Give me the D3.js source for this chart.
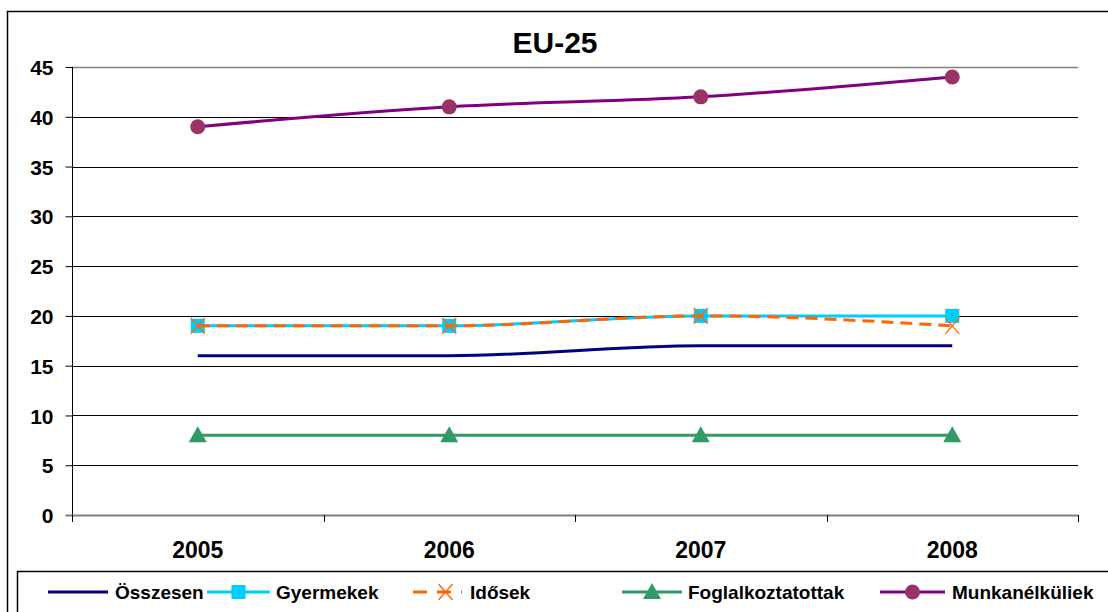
<!DOCTYPE html>
<html>
<head>
<meta charset="utf-8">
<script src="https://cdn.jsdelivr.net/npm/d3@7"></script>
<style>
  html, body { margin: 0; padding: 0; background: #fff; }
  svg { display: block; font-family: "Liberation Sans", Arial, sans-serif; }
</style>
</head>
<body>
<svg id="chart" width="1108" height="612"></svg>
<script>
// Poverty-risk rates, EU-25, by group
const years = ["2005", "2006", "2007", "2008"];
const yTicks = [0, 5, 10, 15, 20, 25, 30, 35, 40, 45];

const osszesen = [16, 16, 17, 17];
const gyermekek = [19, 19, 20, 20];
const idosek = [19, 19, 20, 19];
const foglalkoztatottak = [8, 8, 8, 8];
const munkanelkuliek = [39, 41, 42, 44];

const seriesNames = ["Összesen", "Gyermekek", "Idősek", "Foglalkoztatottak", "Munkanélküliek"];

const series = [
  { name: seriesNames[0], values: osszesen, color: "#000080", marker: null, dash: null },
  { name: seriesNames[1], values: gyermekek, color: "#00CCFF", marker: "square", markerColor: "#00CCFF", dash: null },
  { name: seriesNames[2], values: idosek, color: "#FF6600", marker: "x", markerColor: "#FF6600", dash: "12,7" },
  { name: seriesNames[3], values: foglalkoztatottak, color: "#339966", marker: "triangle", markerColor: "#339966", dash: null },
  { name: seriesNames[4], values: munkanelkuliek, color: "#800080", marker: "circle", markerColor: "#993366", dash: null }
];

const svg = d3.select("#chart");

// outer chart frame
svg.append("path")
  .attr("d", "M7.5,640 L7.5,11.5 L1120,11.5")
  .attr("fill", "none").attr("stroke", "#000").attr("stroke-width", 1.5);

const plot = { left: 72, right: 1078, top: 67, bottom: 515 };

const x = d3.scaleBand().domain(years).range([plot.left, plot.right]).padding(0);
const cx = d => x(d) + x.bandwidth() / 2;
const y = d3.scaleLinear().domain([0, 45]).range([plot.bottom, plot.top]);

// horizontal gridlines
svg.append("g").selectAll("line")
  .data(yTicks.filter(t => t > 0))
  .join("line")
  .attr("x1", plot.left).attr("x2", plot.right)
  .attr("y1", d => Math.round(y(d)) + 0.5).attr("y2", d => Math.round(y(d)) + 0.5)
  .attr("stroke", d => d === 45 ? "#808080" : "#000")
  .attr("stroke-width", d => d === 45 ? 1.5 : 1);

// y axis
const yAxis = svg.append("g")
  .attr("transform", `translate(${plot.left + 0.5},0)`)
  .call(d3.axisLeft(y).tickValues(yTicks).tickSize(7).tickPadding(12));
yAxis.select(".domain").attr("stroke", "#000").attr("d", `M0,${plot.top}V${plot.bottom + 6}`);
yAxis.selectAll(".tick line").attr("stroke", "#000");
yAxis.selectAll(".tick text")
  .attr("font-size", 21).attr("font-weight", "bold").attr("fill", "#000")
  .attr("dy", "0.36em")
  .attr("font-family", "Liberation Sans, Arial, sans-serif");

// x axis line and category boundary ticks
svg.append("line")
  .attr("x1", plot.left - 6).attr("x2", plot.right)
  .attr("y1", plot.bottom + 0.5).attr("y2", plot.bottom + 0.5)
  .attr("stroke", "#808080").attr("stroke-width", 2);
const bounds = years.map(d => x(d)).concat([plot.right]);
svg.append("g").selectAll("line")
  .data(bounds).join("line")
  .attr("x1", d => Math.round(d) + 0.5).attr("x2", d => Math.round(d) + 0.5)
  .attr("y1", plot.bottom).attr("y2", plot.bottom + 7)
  .attr("stroke", "#000");
svg.append("g").selectAll("text")
  .data(years).join("text")
  .attr("x", d => cx(d)).attr("y", 558)
  .attr("text-anchor", "middle")
  .attr("font-size", 23).attr("font-weight", "bold")
  .text(d => d);

// title
svg.append("text")
  .attr("x", 555).attr("y", 53)
  .attr("text-anchor", "middle")
  .attr("font-size", 30).attr("font-weight", "bold")
  .text("EU-25");

// marker drawing
function drawMarker(g, type, color, px, py) {
  if (type === "square") {
    g.append("rect").attr("x", px - 7).attr("y", py - 7).attr("width", 14).attr("height", 14)
      .attr("fill", color);
  } else if (type === "x") {
    g.append("path").attr("d", `M${px - 7},${py - 8}L${px + 7},${py + 8}M${px + 7},${py - 8}L${px - 7},${py + 8}`)
      .attr("stroke", color).attr("stroke-width", 1.3).attr("fill", "none");
  } else if (type === "triangle") {
    g.append("path").attr("d", `M${px},${py - 9}L${px + 9},${py + 7}L${px - 9},${py + 7}Z`)
      .attr("fill", color);
  } else if (type === "circle") {
    g.append("circle").attr("cx", px).attr("cy", py).attr("r", 7.5).attr("fill", color);
  }
}

const line = d3.line()
  .x((d, i) => cx(years[i]))
  .y(d => y(d))
  .curve(d3.curveMonotoneX);

const gSeries = svg.append("g");
series.forEach(s => {
  gSeries.append("path")
    .attr("d", line(s.values))
    .attr("fill", "none")
    .attr("stroke", s.color)
    .attr("stroke-width", 3)
    .attr("stroke-dasharray", s.dash);
  if (s.marker) {
    const gm = gSeries.append("g");
    s.values.forEach((v, i) => drawMarker(gm, s.marker, s.markerColor, cx(years[i]), y(v)));
  }
});

// legend
const legend = svg.append("g");
legend.append("path")
  .attr("d", "M17.5,640 L17.5,571.5 L1120,571.5")
  .attr("fill", "none").attr("stroke", "#000").attr("stroke-width", 1.5);
const legendItems = [
  { x0: 48, x1: 108, tx: 115 },
  { x0: 207, x1: 270, tx: 276 },
  { x0: 413, x1: 462, tx: 470 },
  { x0: 622, x1: 682, tx: 688 },
  { x0: 880, x1: 945, tx: 952 }
];
const ly = 592;
series.forEach((s, i) => {
  const it = legendItems[i];
  legend.append("line")
    .attr("x1", it.x0).attr("x2", it.x1).attr("y1", ly).attr("y2", ly)
    .attr("stroke", s.color).attr("stroke-width", 3)
    .attr("stroke-dasharray", s.dash ? "14,10" : null);
  if (s.marker) drawMarker(legend, s.marker, s.markerColor, (it.x0 + it.x1) / 2 + (s.marker === "x" ? 8 : 0), ly);
  legend.append("text")
    .attr("x", it.tx).attr("y", ly + 7)
    .attr("font-size", 19).attr("font-weight", "bold")
    .text(s.name);
});
</script>
</body>
</html>
